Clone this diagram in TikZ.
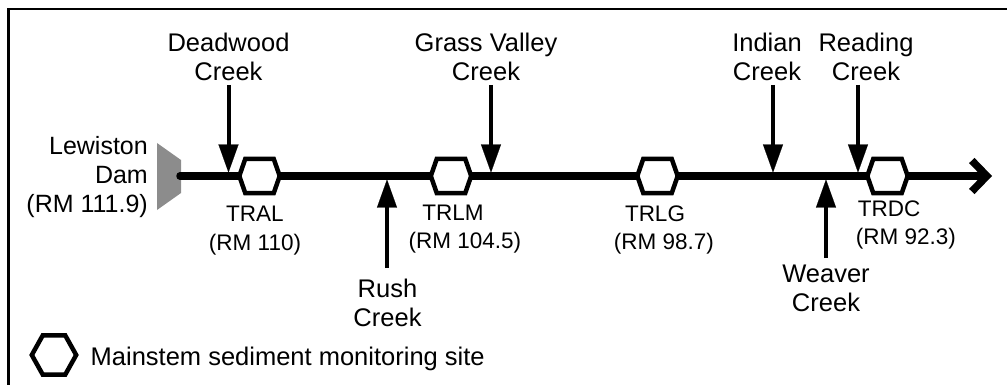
\documentclass[tikz,border=0pt]{standalone}
\usepackage{fontspec}
\setmainfont{Liberation Sans}
\usetikzlibrary{arrows.meta}
\definecolor{damgray}{RGB}{140,140,140}
\begin{document}
\begin{tikzpicture}[x=1pt,y=-1pt,
  creek/.style={font=\fontsize{25.5}{29}\selectfont, align=center, inner xsep=0pt, inner ysep=4pt},
  sitelbl/.style={font=\fontsize{22.5}{27}\selectfont, inner sep=0pt, anchor=base},
  river/.style={line width=7.5pt, line cap=round, -{Straight Barb[length=15pt,width=31pt]}},
  trib/.style={line width=4pt, -{Triangle[length=28pt,width=20pt,line width=0.1pt]}},
  hexline/.style={line width=4.5pt, fill=white, line join=miter},
  site/.style={inner sep=0pt, minimum width=40pt, minimum height=34pt},
  legendsite/.style={inner sep=0pt, minimum width=44pt, minimum height=39pt}
]
\useasboundingbox (0,0) rectangle (1007,385);

% frame
\draw[line width=2.2pt] (8.5,400) -- (8.5,9) -- (1020,9);

% Lewiston Dam
\fill[damgray] (157,143) -- (181,160) -- (181,193) -- (157,210) -- cycle;
\coordinate (dam) at (180,176);
\node[font=\fontsize{25}{29}\selectfont, align=right, inner sep=0pt, anchor=north east]
  (damlbl) at (148,136) {Lewiston\\Dam\\(RM 111.9)};

% main stem
\coordinate (mouth) at (992,176);
\draw[river] (dam) -- (mouth);

% monitoring sites
\node[site] (tral) at (259.5,176) {};
\node[site] (trlm) at (451,176) {};
\node[site] (trlg) at (657.5,176) {};
\node[site] (trdc) at (887.5,176) {};
\node[legendsite] (legend) at (54,355) {};
\foreach \n/\c in {tral/6,trlm/6,trlg/6,trdc/6,legend/11}{
  \draw[hexline] (\n.west) -- ([xshift=\c pt]\n.north west) -- ([xshift=-\c pt]\n.north east)
    -- (\n.east) -- ([xshift=-\c pt]\n.south east) -- ([xshift=\c pt]\n.south west) -- cycle;
}

% site labels
\node[sitelbl] (tral-id) at (255,222) {TRAL};
\node[sitelbl] (tral-rm) at (255,250) {(RM 110)};
\node[sitelbl] (trlm-id) at (453,220) {TRLM};
\node[sitelbl] (trlm-rm) at (465,248) {(RM 104.5)};
\node[sitelbl] (trlg-id) at (655,221) {TRLG};
\node[sitelbl] (trlg-rm) at (664,249) {(RM 98.7)};
\node[sitelbl] (trdc-id) at (889,216) {TRDC};
\node[sitelbl] (trdc-rm) at (906,244) {(RM 92.3)};

% tributaries entering from above
\node[creek, anchor=south] (dw) at (228.5,85) {Deadwood\\Creek};
\node[creek, anchor=south] (gv) at (486,85) {Grass Valley\\Creek};
\node[creek, anchor=south] (ind) at (767,85) {Indian\\Creek};
\node[creek, anchor=south] (rd) at (866,85) {Reading\\Creek};
\coordinate (dwj) at (228.5,172.5);
\coordinate (gvj) at (491,172.5);
\coordinate (indj) at (773,172.5);
\coordinate (rdj) at (858,172.5);
\draw[trib] (dw.south) -- (dwj);
\draw[trib] (gvj |- gv.south) -- (gvj);
\draw[trib] (indj |- ind.south) -- (indj);
\draw[trib] (rdj |- rd.south) -- (rdj);

% tributaries entering from below
\node[creek, anchor=north, inner ysep=2pt] (rush) at (387.5,277) {Rush\\Creek};
\node[creek, anchor=north, inner ysep=2pt] (wv) at (826,263) {Weaver\\Creek};
\coordinate (rushj) at (387,179.5);
\coordinate (wvj) at (826,179.5);
\draw[trib, shorten <=9pt] (rushj |- rush.north) -- (rushj);
\draw[trib, shorten <=5pt] (wv.north) -- (wvj);

% legend
\node[font=\fontsize{25.5}{29}\selectfont, inner sep=0pt, anchor=base west]
  (legendlbl) at (90.5,365) {Mainstem sediment monitoring site};
\end{tikzpicture}
\end{document}
